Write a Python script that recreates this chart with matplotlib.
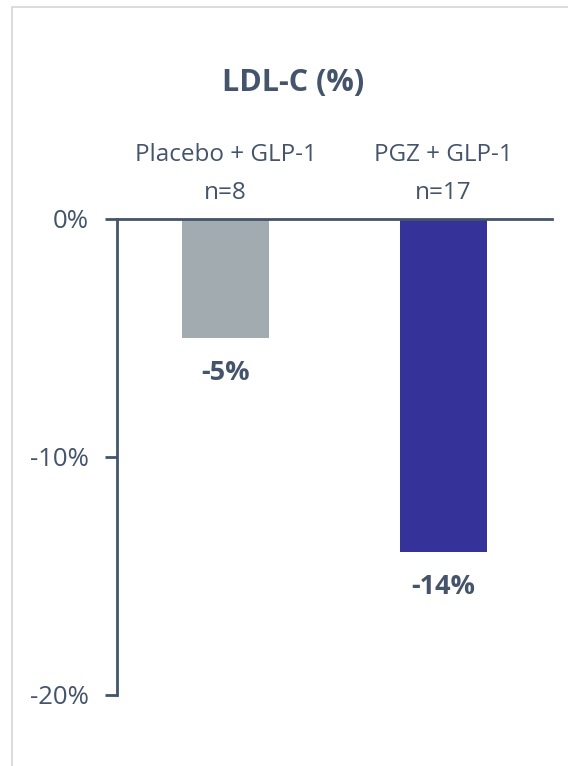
import matplotlib
matplotlib.use("Agg")
import matplotlib.pyplot as plt
from matplotlib.patches import Rectangle

# Data
groups = ["Placebo + GLP-1", "PGZ + GLP-1"]
group_n = ["n=8", "n=17"]
ldl_change = [-5, -14]
bar_colors = ["#a2abb0", "#353399"]
y_ticks = [0, -10, -20]
y_tick_labels = ["0%", "-10%", "-20%"]
title = "LDL-C (%)"

TEXT = "#44546a"
FONT = ["Open Sans", "DejaVu Sans"]

W, H = 568, 766
fig = plt.figure(figsize=(W / 100, H / 100), dpi=100)

# light frame around the panel
frame = Rectangle((12 / W, -0.01), 1.0, 1 - 7 / H + 0.01, transform=fig.transFigure,
                  fill=False, edgecolor="#d3d6da", linewidth=1.2)
fig.patches.append(frame)

# axes: x spine at 117..552 px, y 0 at 219 px, -20 at 695 px
left, right = 117 / W, 552 / W
top, bottom = 1 - 219 / H, 1 - 695 / H
ax = fig.add_axes([left, bottom, right - left, top - bottom])

x = list(range(len(groups)))
ax.bar(x, ldl_change, width=0.4, color=bar_colors, zorder=2)
ax.set_xlim(-0.5, 1.5)
ax.set_ylim(-20, 0)

for s in ["right", "bottom"]:
    ax.spines[s].set_visible(False)
ax.spines["left"].set_color(TEXT)
ax.spines["top"].set_color(TEXT)
ax.spines["left"].set_linewidth(2)
ax.spines["top"].set_linewidth(2)
ax.set_xticks([])
ax.set_yticks(y_ticks)
ax.set_yticklabels(y_tick_labels, fontsize=18.5, color=TEXT, family=FONT)
ax.tick_params(axis="y", length=9, width=2, color=TEXT, pad=11)
ax.patch.set_alpha(0)

# value labels beneath each bar
for xi, v in zip(x, ldl_change):
    ax.annotate(f"{v}%", (xi, v), xytext=(0, -25), textcoords="offset points",
                ha="center", va="center", fontsize=19.5, fontweight="bold",
                color=TEXT, family=FONT)

# group headers above the zero line
for xi, g, n in zip(x, groups, group_n):
    ax.annotate(g, (xi, 0), xytext=(0, 46), textcoords="offset points",
                ha="center", va="center", fontsize=17.5, color=TEXT, family=FONT)
    ax.annotate(n, (xi, 0), xytext=(0, 19), textcoords="offset points",
                ha="center", va="center", fontsize=17.5, color=TEXT, family=FONT)

fig.text(293 / W, 1 - 83 / H, title, ha="center", va="center", fontsize=22,
         fontweight="bold", color=TEXT, family=FONT)

fig.savefig("out.png", dpi=100, facecolor="white")
